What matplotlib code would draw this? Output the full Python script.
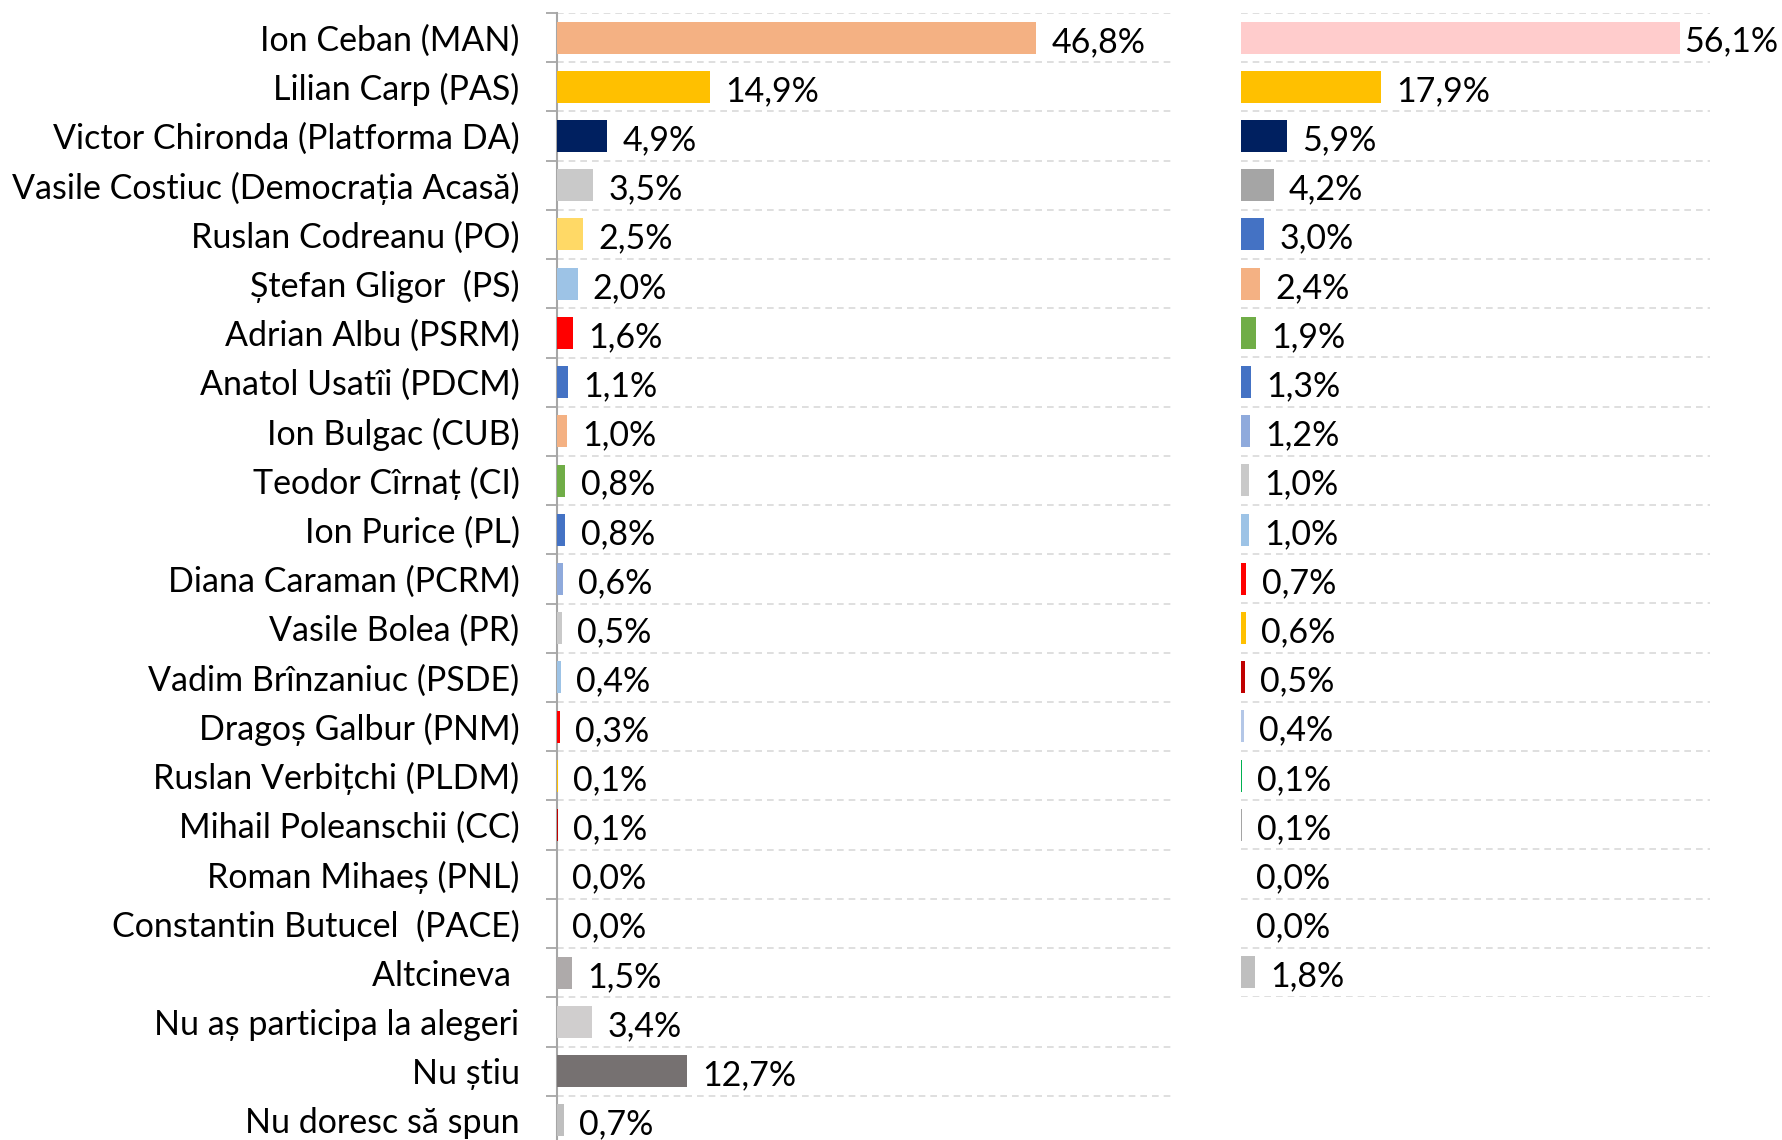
import matplotlib.pyplot as plt

plt.rcParams['font.family'] = ['Lato', 'DejaVu Sans']

# left panel: all respondents
labels = ['Ion Ceban (MAN)', 'Lilian Carp (PAS)', 'Victor Chironda (Platforma DA)',
          'Vasile Costiuc (Democrația Acasă)', 'Ruslan Codreanu (PO)', 'Ștefan Gligor  (PS)',
          'Adrian Albu (PSRM)', 'Anatol Usatîi (PDCM)', 'Ion Bulgac (CUB)',
          'Teodor Cîrnaț (CI)', 'Ion Purice (PL)', 'Diana Caraman (PCRM)',
          'Vasile Bolea (PR)', 'Vadim Brînzaniuc (PSDE)', 'Dragoș Galbur (PNM)',
          'Ruslan Verbițchi (PLDM)', 'Mihail Poleanschii (CC)', 'Roman Mihaeș (PNL)',
          'Constantin Butucel  (PACE)', 'Altcineva ', 'Nu aș participa la alegeri',
          'Nu știu', 'Nu doresc să spun']
left_vals = [46.8, 14.9, 4.9, 3.5, 2.5, 2.0, 1.6, 1.1, 1.0, 0.8, 0.8, 0.6, 0.5,
             0.4, 0.3, 0.1, 0.1, 0.0, 0.0, 1.5, 3.4, 12.7, 0.7]
left_colors = ['#F4B183', '#FFC000', '#002060', '#C9C9C9', '#FFD966', '#9DC3E6',
               '#FF0000', '#4472C4', '#F4B183', '#70AD47', '#4472C4', '#8FAADC',
               '#C9C9C9', '#9DC3E6', '#FF0000', '#FFC000', '#C00000', '#FFFFFF',
               '#FFFFFF', '#AEAAAA', '#D0CECE', '#767171', '#BFBFBF']

# right panel: decided voters
right_vals = [56.1, 17.9, 5.9, 4.2, 3.0, 2.4, 1.9, 1.3, 1.2, 1.0, 1.0, 0.7, 0.6,
              0.5, 0.4, 0.1, 0.1, 0.0, 0.0, 1.8]
right_colors = ['#FFCCCC', '#FFC000', '#002060', '#A5A5A5', '#4472C4', '#F4B183',
                '#70AD47', '#4472C4', '#8FAADC', '#C9C9C9', '#9DC3E6', '#FF0000',
                '#FFC000', '#C00000', '#B4C7E7', '#00B050', '#A5A5A5', '#FFFFFF',
                '#FFFFFF', '#BFBFBF']

fig = plt.figure(figsize=(17.82, 11.40), dpi=100)
ax1 = fig.add_axes([0.3126, -0.0044, 0.3446, 0.993])
ax2 = fig.add_axes([0.6964, 0.1254, 0.2632, 0.8632])

grid_kw = dict(color='#D9D9D9', linestyle=(0, (4, 3)), linewidth=1.2)


def fmt(v):
    return ('%.1f' % v).replace('.', ',') + '%'


for ax, vals, cols in [(ax1, left_vals, left_colors), (ax2, right_vals, right_colors)]:
    n = len(vals)
    ys = list(range(n))
    ax.barh(ys, vals, height=0.65, color=cols, zorder=3)
    ax.set_xlim(0, 60)
    ax.set_ylim(n - 0.5, -0.5)
    ax.set_yticks([i - 0.5 for i in range(n + 1)], minor=True)
    ax.grid(which='minor', axis='y', **grid_kw)
    ax.grid(which='major', visible=False)
    ax.set_xticks([])
    for s in ['top', 'right', 'bottom']:
        ax.spines[s].set_visible(False)
    for y, v in zip(ys, vals):
        pad = 3 if v > 50 else 11
        ax.annotate(fmt(v), (v, y), xytext=(pad, -3), textcoords='offset points',
                    ha='left', va='center', fontsize=24.5, color='black', zorder=4)

ax1.set_yticks(range(len(labels)))
ax1.set_yticklabels(labels, fontsize=24.5)
ax1.tick_params(axis='y', which='major', length=0, pad=27)
ax1.tick_params(axis='y', which='minor', length=8, width=1.3, color='#A6A6A6')
ax1.spines['left'].set_color('#A6A6A6')
ax1.spines['left'].set_linewidth(1.5)

ax2.spines['left'].set_visible(False)
ax2.set_yticks([])
ax2.tick_params(axis='y', which='minor', length=0)

fig.savefig('out.png', dpi=100)
